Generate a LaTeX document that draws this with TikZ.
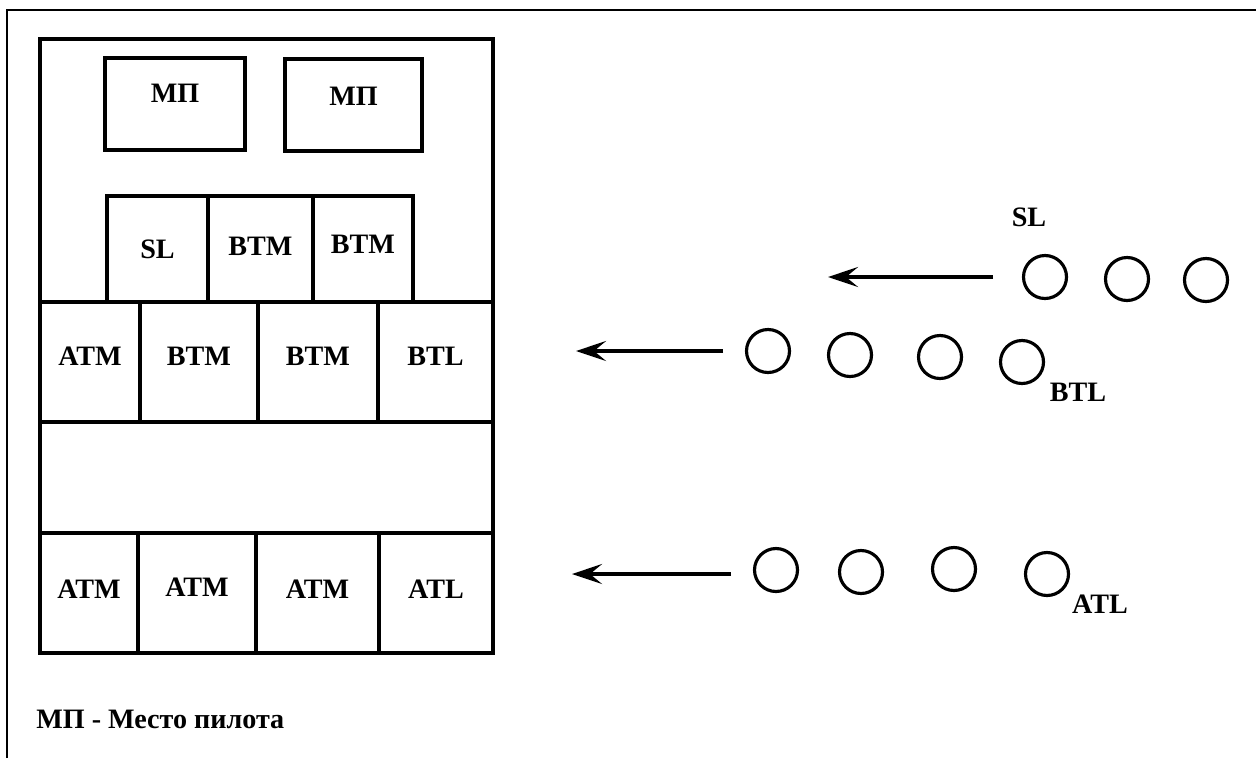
\documentclass[tikz,border=0pt]{standalone}
\usepackage{fontspec}
\setmainfont{Liberation Serif}
\usetikzlibrary{arrows.meta,positioning}

\begin{document}
\begin{tikzpicture}[x=0.02cm, y=-0.02cm,
      frame/.style={draw=black, line width=1.1pt},
      wall/.style={draw=black, line width=2.3pt},
      tag/.style={font=\fontsize{16}{19}\selectfont\bfseries, inner sep=0pt},
      plane/.style={draw=black, circle, line width=1.8pt,
                    minimum size=0.86cm, inner sep=0pt},
      arrow/.style={-{Stealth[length=0.6cm, width=0.4cm, inset=0.24cm]},
                    line width=2.1pt}]

    \useasboundingbox (0,0) rectangle (1256,758);
    \draw[frame] (7,758) -- (7,10) -- (1256,10);

    % stand
    \draw[wall] (40,39) rectangle (493,653);
    \draw[wall] (105,58) rectangle node[tag, yshift=0.22cm] (mp1) {МП} (245,150);
    \draw[wall] (285,59) rectangle node[tag, yshift=0.18cm] (mp2) {МП} (422,151);

    \draw[wall] (107,196) rectangle node[tag] (r11) {SL}  (208,302);
    \draw[wall] (208,196) rectangle node[tag, yshift=0.06cm] (r12) {BTM} (313,302);
    \draw[wall] (313,196) rectangle node[tag, yshift=0.1cm] (r13) {BTM} (413,302);

    \draw[wall] (40,302)  rectangle node[tag, yshift=0.12cm] (r21) {ATM} (140,422);
    \draw[wall] (140,302) rectangle node[tag, yshift=0.12cm] (r22) {BTM} (258,422);
    \draw[wall] (258,302) rectangle node[tag, yshift=0.12cm] (r23) {BTM} (378,422);
    \draw[wall] (378,302) rectangle node[tag, yshift=0.12cm] (r24) {BTL} (493,422);

    \draw[wall] (40,533)  rectangle node[tag, yshift=0.08cm] (r31) {ATM} (138,653);
    \draw[wall] (138,533) rectangle node[tag, yshift=0.12cm] (r32) {ATM} (256,653);
    \draw[wall] (256,533) rectangle node[tag, yshift=0.08cm] (r33) {ATM} (379,653);
    \draw[wall] (379,533) rectangle node[tag, yshift=0.08cm] (r34) {ATL} (493,653);

    \node[tag, anchor=base west] (legend) at (36,728) {МП - Место пилота};

    % groups
    \node[plane] (s1) at (1045,277) {};
    \node[plane] (s2) at (1127,279) {};
    \node[plane] (s3) at (1206,280) {};
    \node[tag] (sl) at (1029,217) {SL};

    \node[plane] (b1) at (768,351) {};
    \node[plane] (b2) at (850,355) {};
    \node[plane] (b3) at (940,357) {};
    \node[plane] (b4) at (1022,362) {};
    \node[tag] (btl) at (1078,392) {BTL};

    \node[plane] (a1) at (776,570) {};
    \node[plane] (a2) at (861,572) {};
    \node[plane] (a3) at (954,569) {};
    \node[plane] (a4) at (1047,574) {};
    \node[tag] (atl) at (1100,604) {ATL};

    \coordinate (sTail) at (993,277);  \coordinate (sTip) at (828,277);
    \coordinate (bTail) at (723,351);  \coordinate (bTip) at (576,351);
    \coordinate (aTail) at (731,574);  \coordinate (aTip) at (572,574);

    \draw[arrow] (sTail) -- (sTip);
    \draw[arrow] (bTail) -- (bTip);
    \draw[arrow] (aTail) -- (aTip);
\end{tikzpicture}
\end{document}
